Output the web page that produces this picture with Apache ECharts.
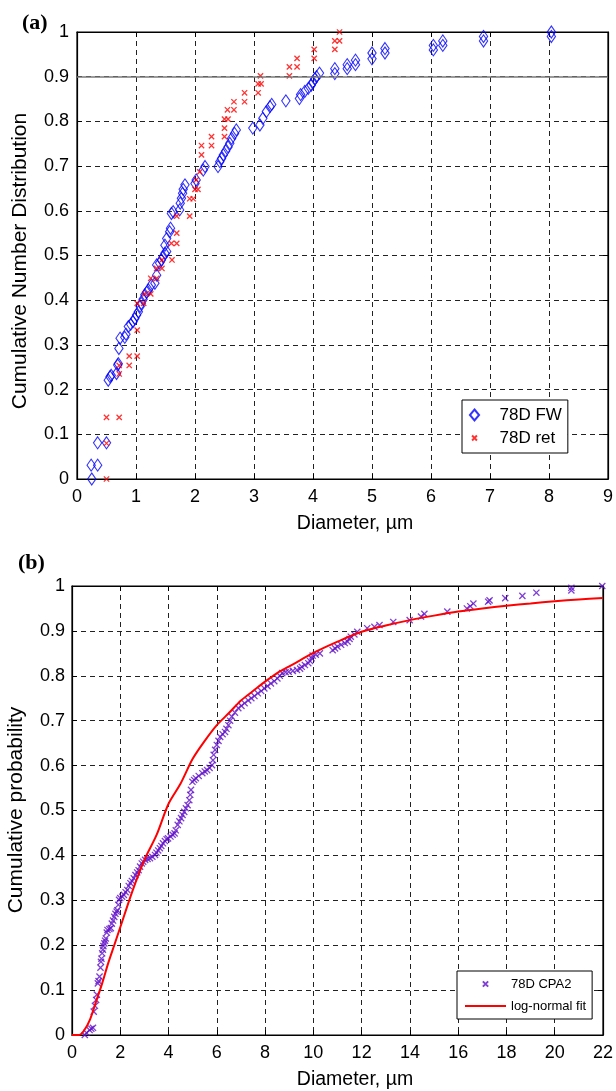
<!DOCTYPE html>
<html><head><meta charset="utf-8">
<script src="https://cdn.jsdelivr.net/npm/echarts@6/dist/echarts.min.js"></script>
<style>html,body{margin:0;padding:0;background:#fff}#c{width:616px;height:1091px}</style>
</head><body><div id="c"></div>
<script>
// ---------- data ----------
// panel (a): 78D FW  [diameter µm, cumulative number fraction]
const fwPoints = [[0.25,0],[0.24,0.031],[0.35,0.031],[0.35,0.081],[0.5,0.081],[0.53,0.221],[0.56,0.229],[0.58,0.232],[0.67,0.236],[0.69,0.255],[0.7,0.258],[0.71,0.292],[0.73,0.315],[0.81,0.317],[0.83,0.324],[0.87,0.341],[0.91,0.346],[0.95,0.352],[0.98,0.359],[1.01,0.367],[1.04,0.374],[1.07,0.386],[1.09,0.393],[1.12,0.402],[1.15,0.412],[1.18,0.418],[1.21,0.423],[1.26,0.434],[1.32,0.438],[1.35,0.456],[1.35,0.479],[1.4,0.483],[1.43,0.49],[1.46,0.497],[1.49,0.505],[1.52,0.509],[1.49,0.523],[1.52,0.538],[1.57,0.553],[1.585,0.561],[1.6,0.594],[1.63,0.598],[1.74,0.602],[1.75,0.617],[1.77,0.628],[1.79,0.639],[1.8,0.648],[1.83,0.658],[2.0,0.661],[2.02,0.669],[2.14,0.691],[2.17,0.699],[2.39,0.699],[2.42,0.71],[2.45,0.717],[2.48,0.725],[2.52,0.734],[2.56,0.743],[2.59,0.751],[2.62,0.762],[2.67,0.773],[2.7,0.781],[2.98,0.785],[3.1,0.792],[3.15,0.807],[3.21,0.822],[3.27,0.833],[3.3,0.838],[3.54,0.846],[3.77,0.851],[3.79,0.86],[3.86,0.867],[3.92,0.874],[3.97,0.881],[4.0,0.888],[4.03,0.895],[4.06,0.9],[4.11,0.908],[4.37,0.907],[4.37,0.918],[4.58,0.918],[4.58,0.927],[4.72,0.927],[4.72,0.937],[5.0,0.94],[5.0,0.953],[5.22,0.953],[5.22,0.963],[6.04,0.96],[6.04,0.97],[6.2,0.97],[6.2,0.98],[6.89,0.98],[6.89,0.99],[8.04,0.99],[8.04,1.0]];
// panel (a): 78D ret
const retPoints = [[0.5,0],[0.5,0.08],[0.5,0.138],[0.715,0.138],[0.715,0.235],[0.715,0.254],[0.885,0.254],[0.885,0.275],[1.02,0.275],[1.02,0.333],[1.02,0.393],[1.13,0.393],[1.15,0.414],[1.25,0.414],[1.25,0.449],[1.35,0.449],[1.35,0.471],[1.44,0.471],[1.44,0.49],[1.61,0.49],[1.6,0.527],[1.69,0.527],[1.69,0.55],[1.69,0.588],[1.91,0.588],[1.91,0.627],[1.97,0.627],[2.0,0.648],[2.05,0.648],[2.02,0.669],[2.08,0.687],[2.11,0.725],[2.11,0.746],[2.28,0.746],[2.28,0.766],[2.5,0.766],[2.5,0.785],[2.5,0.805],[2.56,0.805],[2.55,0.826],[2.66,0.826],[2.66,0.844],[2.84,0.844],[2.84,0.864],[3.07,0.864],[3.07,0.884],[3.12,0.884],[3.11,0.902],[3.6,0.902],[3.6,0.922],[3.73,0.922],[3.73,0.941],[4.02,0.941],[4.02,0.961],[4.37,0.961],[4.37,0.98],[4.45,0.98],[4.45,1.0]];
// panel (b): 78D CPA2  [diameter µm, cumulative probability]
const cpa2Points = [[0.53,0.0],[0.6,0.005],[0.73,0.011],[0.8,0.014],[0.87,0.016],[0.9,0.052],[0.95,0.065],[1.0,0.078],[1.03,0.09],[1.07,0.115],[1.1,0.12],[1.14,0.13],[1.18,0.15],[1.2,0.163],[1.22,0.17],[1.25,0.182],[1.28,0.19],[1.3,0.198],[1.34,0.204],[1.37,0.21],[1.4,0.215],[1.44,0.228],[1.47,0.234],[1.55,0.236],[1.61,0.238],[1.65,0.248],[1.7,0.255],[1.75,0.263],[1.8,0.27],[1.85,0.275],[1.88,0.278],[1.92,0.29],[1.95,0.301],[2.0,0.305],[2.08,0.308],[2.15,0.312],[2.22,0.318],[2.29,0.323],[2.35,0.332],[2.42,0.338],[2.48,0.343],[2.56,0.349],[2.63,0.356],[2.7,0.362],[2.76,0.367],[2.82,0.375],[2.89,0.382],[2.95,0.386],[3.03,0.39],[3.13,0.392],[3.23,0.394],[3.33,0.397],[3.44,0.401],[3.5,0.406],[3.57,0.411],[3.64,0.416],[3.7,0.421],[3.77,0.427],[3.85,0.432],[3.92,0.436],[3.98,0.438],[4.08,0.442],[4.17,0.446],[4.25,0.449],[4.3,0.456],[4.38,0.468],[4.45,0.476],[4.52,0.483],[4.58,0.49],[4.65,0.497],[4.72,0.505],[4.79,0.512],[4.86,0.523],[4.9,0.535],[4.93,0.546],[4.99,0.564],[5.06,0.568],[5.13,0.572],[5.25,0.577],[5.4,0.583],[5.5,0.587],[5.6,0.59],[5.7,0.595],[5.8,0.601],[5.84,0.612],[5.87,0.624],[5.93,0.635],[6.0,0.646],[6.07,0.655],[6.14,0.664],[6.24,0.67],[6.34,0.675],[6.4,0.682],[6.48,0.69],[6.55,0.7],[6.62,0.709],[6.75,0.718],[6.89,0.728],[7.02,0.733],[7.15,0.739],[7.3,0.745],[7.43,0.75],[7.56,0.755],[7.7,0.761],[7.84,0.766],[7.97,0.772],[8.1,0.777],[8.24,0.783],[8.38,0.788],[8.51,0.794],[8.61,0.8],[8.71,0.806],[8.85,0.808],[8.98,0.809],[9.15,0.811],[9.32,0.813],[9.45,0.816],[9.52,0.82],[9.65,0.824],[9.79,0.828],[9.86,0.833],[9.93,0.839],[9.97,0.845],[10.1,0.847],[10.27,0.85],[10.8,0.857],[10.9,0.861],[11.0,0.865],[11.15,0.869],[11.3,0.873],[11.42,0.876],[11.5,0.882],[11.55,0.887],[11.7,0.892],[11.82,0.898],[12.23,0.906],[12.53,0.909],[12.74,0.913],[13.31,0.92],[13.99,0.924],[14.46,0.932],[14.6,0.938],[15.55,0.943],[16.36,0.95],[16.5,0.955],[16.63,0.961],[17.24,0.965],[17.3,0.968],[17.95,0.973],[18.66,0.978],[19.24,0.985],[20.69,0.99],[20.69,0.996],[21.97,1.0]];
// panel (b): log-normal fit curve
const fitPoints = [[0,0],[0.3,0],[0.5,0.01],[0.75,0.035],[1.0,0.075],[1.25,0.115],[1.5,0.16],[1.75,0.2],[2.0,0.24],[2.5,0.32],[3.0,0.39],[3.5,0.445],[4.0,0.515],[4.5,0.56],[5.0,0.615],[5.5,0.655],[6.0,0.69],[6.5,0.717],[7.0,0.745],[7.5,0.766],[8.0,0.787],[8.5,0.806],[9.0,0.821],[9.5,0.836],[10.0,0.851],[11.0,0.876],[12.0,0.898],[13.0,0.912],[14.0,0.924],[15.0,0.934],[16.0,0.943],[17.0,0.95],[18.0,0.956],[19.0,0.961],[20.0,0.966],[21.0,0.97],[22.0,0.973]];
const refLineA = 0.9;

// ---------- chart ----------
const FONT = "'Liberation Sans', Arial, sans-serif";
const crossPath = 'path://M0,0M10,10M2.8,2.8L7.2,7.2M7.2,2.8L2.8,7.2';
const diamondPath = 'path://M5,0L10,6L5,12L0,6Z';
const grids = [
  {left: 77, top: 32, width: 533, height: 447},
  {left: 72, top: 586, width: 542, height: 449}
];
function xAx(gi, max, interval, pos) {
  const main = pos === 'bottom';
  return {
    type: 'value', gridIndex: gi, min: 0, max: max, interval: interval, position: pos,
    axisLine: {show: true, onZero: false, lineStyle: {color: '#000', width: 1.2}},
    axisTick: {show: true, inside: true, length: 5, lineStyle: {color: '#000'}},
    axisLabel: {show: main, color: '#000', fontFamily: FONT, fontSize: 18, margin: 9,
      alignMinLabel: 'center', alignMaxLabel: 'center', hideOverlap: false},
    splitLine: {show: main, lineStyle: {color: '#222', type: [5, 4], width: 1}}
  };
}
function yAx(gi, pos, margin) {
  const main = pos === 'left';
  return {
    type: 'value', gridIndex: gi, min: 0, max: 1, interval: 0.1, position: pos,
    axisLine: {show: true, onZero: false, lineStyle: {color: '#000', width: 1.2}},
    axisTick: {show: true, inside: true, length: 5, lineStyle: {color: '#000'}},
    axisLabel: {show: main, color: '#000', fontFamily: FONT, fontSize: 18, margin: margin},
    splitLine: {show: main, lineStyle: {color: '#222', type: [5, 4], width: 1}}
  };
}
const option = {
  animation: false,
  backgroundColor: '#fff',
  grid: grids.map(g => Object.assign({show: true, borderColor: '#000', borderWidth: 1.2, backgroundColor: '#fff'}, g)),
  xAxis: [xAx(0, 9, 1, 'bottom'), xAx(1, 22, 2, 'bottom'), xAx(0, 9, 1, 'top'), xAx(1, 22, 2, 'top')],
  yAxis: [yAx(0, 'left', 8), yAx(1, 'left', 7), yAx(0, 'right', 8), yAx(1, 'right', 7)],
  legend: [
    {
      data: ['78D FW', '78D ret'], orient: 'vertical', left: 462, top: 400,
      backgroundColor: '#fff', borderColor: '#000', borderWidth: 1,
      padding: [5, 6, 5, 6], itemGap: 3, itemWidth: 40, itemHeight: 11,
      textStyle: {fontFamily: FONT, fontSize: 17, color: '#000', lineHeight: 20}
    },
    {
      data: ['78D CPA2', {name: 'log-normal fit', itemStyle: {opacity: 0}}], orient: 'vertical', left: 457, top: 971,
      backgroundColor: '#fff', borderColor: '#000', borderWidth: 1,
      padding: [5, 6, 5, 7], itemGap: 6, itemWidth: 41, itemHeight: 12,
      textStyle: {fontFamily: FONT, fontSize: 13, color: '#000', lineHeight: 16}
    }
  ],
  graphic: [
    {type: 'text', left: 22, top: 12, style: {text: '(a)', font: "bold 22px 'Liberation Serif', 'Times New Roman', serif", fill: '#000'}},
    {type: 'text', left: 18, top: 552, style: {text: '(b)', font: "bold 22px 'Liberation Serif', 'Times New Roman', serif", fill: '#000'}},
    {type: 'text', x: 20, y: 261, rotation: Math.PI / 2, style: {text: 'Cumulative Number Distribution', font: "21px " + FONT, fill: '#000', textAlign: 'center', textVerticalAlign: 'middle'}},
    {type: 'text', x: 355, y: 524, style: {text: 'Diameter, \u00b5m', font: "19.5px " + FONT, fill: '#000', textAlign: 'center', textVerticalAlign: 'middle'}},
    {type: 'text', x: 16, y: 810, rotation: Math.PI / 2, style: {text: 'Cumulative probability', font: "21px " + FONT, fill: '#000', textAlign: 'center', textVerticalAlign: 'middle'}},
    {type: 'text', x: 355, y: 1080, style: {text: 'Diameter, \u00b5m', font: "19.5px " + FONT, fill: '#000', textAlign: 'center', textVerticalAlign: 'middle'}}
  ],
  series: [
    {
      name: '78D FW', type: 'scatter', xAxisIndex: 0, yAxisIndex: 0,
      data: fwPoints, symbol: diamondPath, symbolSize: [10, 12], symbolKeepAspect: true,
      itemStyle: {color: 'rgba(0,0,0,0)', borderColor: '#0000ff', borderWidth: 1.1},
      markLine: {
        silent: true, symbol: ['none', 'none'], label: {show: false},
        lineStyle: {color: '#7a7a7a', type: 'solid', width: 1.6},
        data: [{yAxis: refLineA}]
      },
      z: 3
    },
    {
      name: '78D ret', type: 'scatter', xAxisIndex: 0, yAxisIndex: 0,
      data: retPoints, symbol: crossPath, symbolSize: 12, symbolKeepAspect: true,
      itemStyle: {color: '#ff0000', borderColor: '#ff0000', borderWidth: 1.3},
      z: 4
    },
    {
      name: '78D CPA2', type: 'scatter', xAxisIndex: 1, yAxisIndex: 1,
      data: cpa2Points, symbol: crossPath, symbolSize: 14, symbolKeepAspect: true,
      itemStyle: {color: '#6010c8', borderColor: '#6010c8', borderWidth: 1.3},
      z: 3
    },
    {
      name: 'log-normal fit', type: 'line', xAxisIndex: 1, yAxisIndex: 1,
      data: fitPoints, symbol: 'none', showSymbol: false, smooth: 0.3,
      lineStyle: {color: '#ff0000', width: 2}, itemStyle: {color: '#ff0000'},
      z: 4
    }
  ]
};
const chart = echarts.init(document.getElementById('c'), null, {renderer: 'canvas'});
chart.setOption(option);
</script>
</body></html>
